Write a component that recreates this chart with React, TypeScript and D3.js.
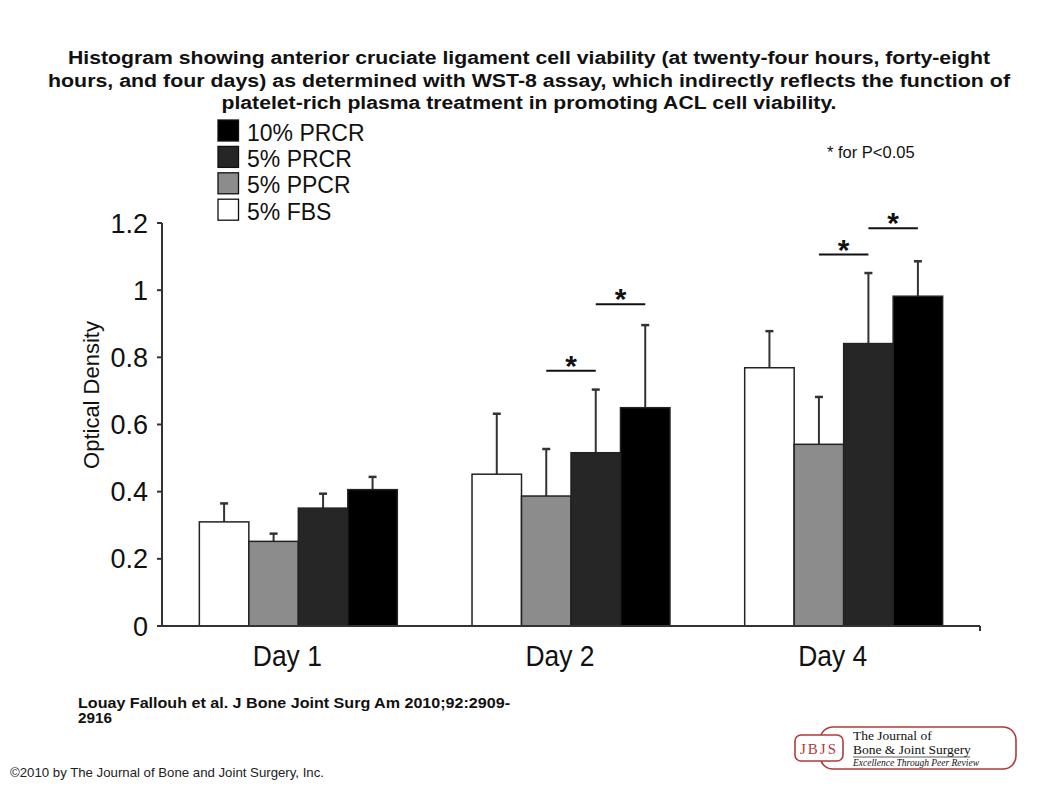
import { scaleLinear, scaleBand } from "d3";

const days = ["Day 1", "Day 2", "Day 4"];
const groups = ["5% FBS", "5% PPCR", "5% PRCR", "10% PRCR"];
const legendOrder = ["10% PRCR", "5% PRCR", "5% PPCR", "5% FBS"];
const fills: Record<string, string> = {
  "5% FBS": "#ffffff",
  "5% PPCR": "#8c8c8c",
  "5% PRCR": "#262626",
  "10% PRCR": "#000000",
};

const fbs = [0.31, 0.452, 0.769];
const fbsErr = [0.055, 0.18, 0.109];
const ppcr = [0.252, 0.387, 0.541];
const ppcrErr = [0.023, 0.14, 0.141];
const prcr5 = [0.351, 0.516, 0.841];
const prcr5Err = [0.043, 0.188, 0.21];
const prcr10 = [0.406, 0.65, 0.982];
const prcr10Err = [0.038, 0.246, 0.104];

const yTicks = [0, 0.2, 0.4, 0.6, 0.8, 1, 1.2];

// significance brackets: day, from group, to group, height
const sigDays = ["Day 2", "Day 2", "Day 4", "Day 4"];
const sigFrom = ["5% PPCR", "5% PRCR", "5% PPCR", "5% PRCR"];
const sigTo = ["5% PRCR", "10% PRCR", "5% PRCR", "10% PRCR"];
const sigLevel = [0.76, 0.958, 1.106, 1.184];

const titleLines = [
  "Histogram showing anterior cruciate ligament cell viability (at twenty-four hours, forty-eight",
  "hours, and four days) as determined with WST-8 assay, which indirectly reflects the function of",
  "platelet-rich plasma treatment in promoting ACL cell viability.",
];
const titleWidths = [922, 962, 615];

const values = [fbs, ppcr, prcr5, prcr10];
const errors = [fbsErr, ppcrErr, prcr5Err, prcr10Err];

export default function App() {
  const width = 1058;
  const height = 793;
  const x0 = 162;
  const x1 = 980;
  const y = scaleLinear().domain([0, 1.2]).range([626, 223]);
  const xDay = scaleBand().domain(days).range([x0, x1]).paddingInner(0.274).paddingOuter(0.137);
  const xGroup = scaleBand().domain(groups).range([0, xDay.bandwidth()]);
  const bw = xGroup.bandwidth();
  const font = "Arial, 'Liberation Sans', sans-serif";
  const serif = "'Times New Roman', 'Liberation Serif', serif";
  const red = "#b23a3a";

  const fmt = (d: number) => String(+d.toFixed(1));

  return (
    <svg
      width={width}
      height={height}
      viewBox={`0 0 ${width} ${height}`}
      style={{ position: "absolute", left: 0, top: 0, background: "#fff" }}
      fontFamily={font}
    >
      {/* title */}
      {titleLines.map((t, i) => (
        <text
          key={i}
          x={529}
          y={64 + i * 22.5}
          textAnchor="middle"
          fontSize={18}
          fontWeight="bold"
          fill="#111"
          textLength={titleWidths[i]}
          lengthAdjust="spacingAndGlyphs"
        >
          {t}
        </text>
      ))}

      {/* legend */}
      {legendOrder.map((g, i) => (
        <g key={g} transform={`translate(218, ${120 + i * 26.4})`}>
          <rect x={0} y={0} width={20.5} height={21} fill={fills[g]} stroke="#111" strokeWidth={1.3} />
          <text x={29} y={20.5} fontSize={23} fill="#111">{g}</text>
        </g>
      ))}
      <text x={827} y={158} fontSize={16.5} fill="#111">* for P&lt;0.05</text>

      {/* y axis */}
      <line x1={x0} x2={x0} y1={y(1.2)} y2={y(0)} stroke="#333" strokeWidth={2} />
      {yTicks.map((t) => (
        <g key={t}>
          <line x1={x0 - 5} x2={x0} y1={y(t)} y2={y(t)} stroke="#333" strokeWidth={2} />
          <text x={148} y={y(t) + 9.5} textAnchor="end" fontSize={27} fill="#111">{fmt(t)}</text>
        </g>
      ))}
      <text transform={`translate(99, 395) rotate(-90)`} textAnchor="middle" fontSize={22} fill="#111">
        Optical Density
      </text>

      {/* bars */}
      {days.map((d, di) => (
        <g key={d} transform={`translate(${xDay(d)}, 0)`}>
          {groups.map((g, gi) => {
            const v = values[gi][di];
            const e = errors[gi][di];
            const bx = xGroup(g) as number;
            const cx = bx + bw / 2;
            return (
              <g key={g}>
                <line x1={cx} x2={cx} y1={y(v)} y2={y(v + e)} stroke="#333" strokeWidth={2} />
                <line x1={cx - 4} x2={cx + 4} y1={y(v + e)} y2={y(v + e)} stroke="#333" strokeWidth={2.5} />
                <rect x={bx} y={y(v)} width={bw} height={y(0) - y(v)} fill={fills[g]} stroke="#222" strokeWidth={1.5} />
              </g>
            );
          })}
          <text
            x={xDay.bandwidth() / 2 - 11}
            y={666}
            textAnchor="middle"
            fontSize={29}
            textLength={69}
            lengthAdjust="spacingAndGlyphs"
            fill="#111"
          >
            {d}
          </text>
        </g>
      ))}

      {/* x axis */}
      <line x1={x0} x2={x1} y1={y(0)} y2={y(0)} stroke="#333" strokeWidth={2} />
      <line x1={x1} x2={x1} y1={y(0)} y2={y(0) + 5} stroke="#333" strokeWidth={2} />

      {/* significance */}
      {sigDays.map((d, i) => {
        const base = xDay(d) as number;
        const a = base + (xGroup(sigFrom[i]) as number) + bw / 2;
        const b = base + (xGroup(sigTo[i]) as number) + bw / 2;
        return (
          <g key={i}>
            <line x1={a} x2={b} y1={y(sigLevel[i])} y2={y(sigLevel[i])} stroke="#111" strokeWidth={2} />
            <text x={(a + b) / 2} y={y(sigLevel[i]) + 5} textAnchor="middle" fontSize={30} fontWeight="bold" fill="#111">*</text>
          </g>
        );
      })}

      {/* citation */}
      <text x={78} y={708} fontSize={14.5} fontWeight="bold" fill="#111" textLength={432} lengthAdjust="spacingAndGlyphs">
        Louay Fallouh et al. J Bone Joint Surg Am 2010;92:2909-
      </text>
      <text x={78} y={723} fontSize={14.5} fontWeight="bold" fill="#111" textLength={34} lengthAdjust="spacingAndGlyphs">2916</text>
      <text x={10} y={777} fontSize={13} fill="#222" textLength={314} lengthAdjust="spacingAndGlyphs">
        ©2010 by The Journal of Bone and Joint Surgery, Inc.
      </text>

      {/* journal logo */}
      <g>
        <rect x={820} y={727} width={196} height={42} rx={13} fill="#fff" stroke={red} strokeWidth={1.6} />
        <rect x={795} y={735} width={48} height={26} rx={6} fill="#fff" stroke={red} strokeWidth={1.6} />
        <text x={819} y={754} textAnchor="middle" fontSize={15} fontFamily={serif} fill={red} letterSpacing={2}>JBJS</text>
        <text x={853} y={740} fontSize={13.5} fontFamily={serif} fill="#111">The Journal of</text>
        <text x={853} y={754} fontSize={13.5} fontFamily={serif} fill="#111">Bone &amp; Joint Surgery</text>
        <line x1={853} x2={970} y1={757} y2={757} stroke="#333" strokeWidth={0.8} />
        <text x={853} y={766} fontSize={9.5} fontStyle="italic" fontFamily={serif} fill="#111">Excellence Through Peer Review</text>
      </g>
    </svg>
  );
}
